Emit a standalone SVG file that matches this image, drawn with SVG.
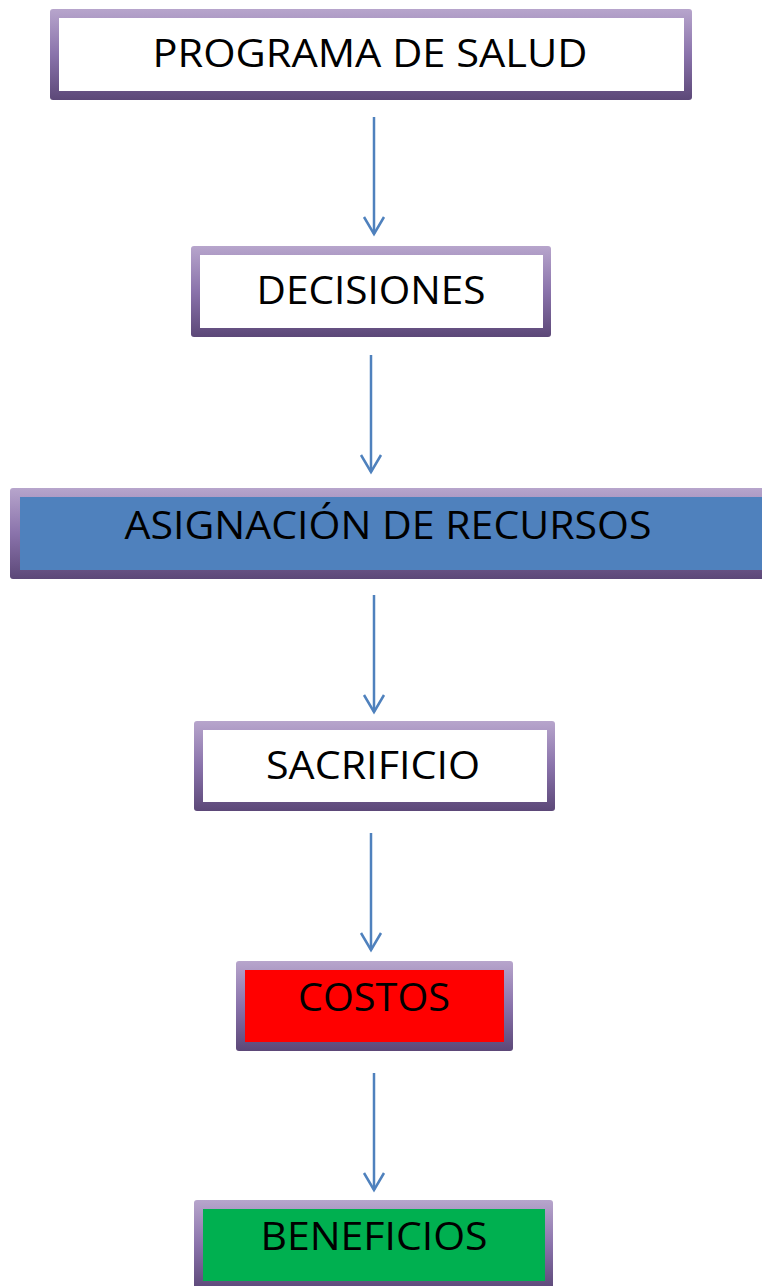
<svg xmlns="http://www.w3.org/2000/svg" width="762" height="1286" viewBox="0 0 762 1286">
<style>
.frame{fill:url(#bd);}
.lbl{font-family:"Open Sans","Liberation Sans",sans-serif;font-size:38px;fill:#000;text-anchor:middle;}
.conn line{stroke:#4f81bd;stroke-width:2.5;fill:none;}
.conn path{stroke:#4f81bd;stroke-width:2.5;fill:none;stroke-linejoin:miter;}
</style>
<defs>
<linearGradient id="bd" x1="0" y1="0" x2="0" y2="1">
<stop offset="0" stop-color="#b7a5cc"/>
<stop offset="0.5" stop-color="#8a73ab"/>
<stop offset="1" stop-color="#5c4878"/>
</linearGradient>
</defs>
<rect width="762" height="1286" fill="#fff"/>
<g id="n1">
<rect class="frame" x="50" y="9" width="642" height="91" rx="3"/>
<rect x="59" y="18" width="625" height="73" fill="#fff"/>
<text class="lbl" x="370" y="67" textLength="435" lengthAdjust="spacingAndGlyphs">PROGRAMA DE SALUD</text>
</g>
<g id="n2">
<rect class="frame" x="191" y="246" width="360" height="91" rx="3"/>
<rect x="200" y="255" width="343" height="73" fill="#fff"/>
<text class="lbl" x="371" y="304" textLength="229" lengthAdjust="spacingAndGlyphs">DECISIONES</text>
</g>
<g id="n3">
<rect class="frame" x="10" y="488" width="760" height="91" rx="3"/>
<rect x="20" y="497" width="750" height="73" fill="#4f81bd"/>
<text class="lbl" x="388" y="539" textLength="527" lengthAdjust="spacingAndGlyphs">ASIGNACIÓN DE RECURSOS</text>
</g>
<g id="n4">
<rect class="frame" x="194" y="721" width="361" height="90" rx="3"/>
<rect x="203" y="730" width="344" height="72" fill="#fff"/>
<text class="lbl" x="373" y="779" textLength="214" lengthAdjust="spacingAndGlyphs">SACRIFICIO</text>
</g>
<g id="n5">
<rect class="frame" x="236" y="961" width="277" height="90" rx="3"/>
<rect x="245" y="970" width="259" height="72" fill="#ff0000"/>
<text class="lbl" x="374" y="1011" textLength="152" lengthAdjust="spacingAndGlyphs">COSTOS</text>
</g>
<g id="n6">
<rect class="frame" x="194" y="1200" width="359" height="90" rx="3"/>
<rect x="203" y="1209" width="342" height="72" fill="#00b050"/>
<text class="lbl" x="374" y="1250" textLength="227" lengthAdjust="spacingAndGlyphs">BENEFICIOS</text>
</g>
<g id="connectors" class="conn">
<line x1="374" y1="117" x2="374" y2="234"/>
<path d="M364 217 L374 234 L384 217"/>
<line x1="371" y1="355" x2="371" y2="472"/>
<path d="M361 455 L371 472 L381 455"/>
<line x1="374" y1="595" x2="374" y2="712"/>
<path d="M364 695 L374 712 L384 695"/>
<line x1="371" y1="833" x2="371" y2="950"/>
<path d="M361 933 L371 950 L381 933"/>
<line x1="374" y1="1073" x2="374" y2="1190"/>
<path d="M364 1173 L374 1190 L384 1173"/>
</g>
</svg>
